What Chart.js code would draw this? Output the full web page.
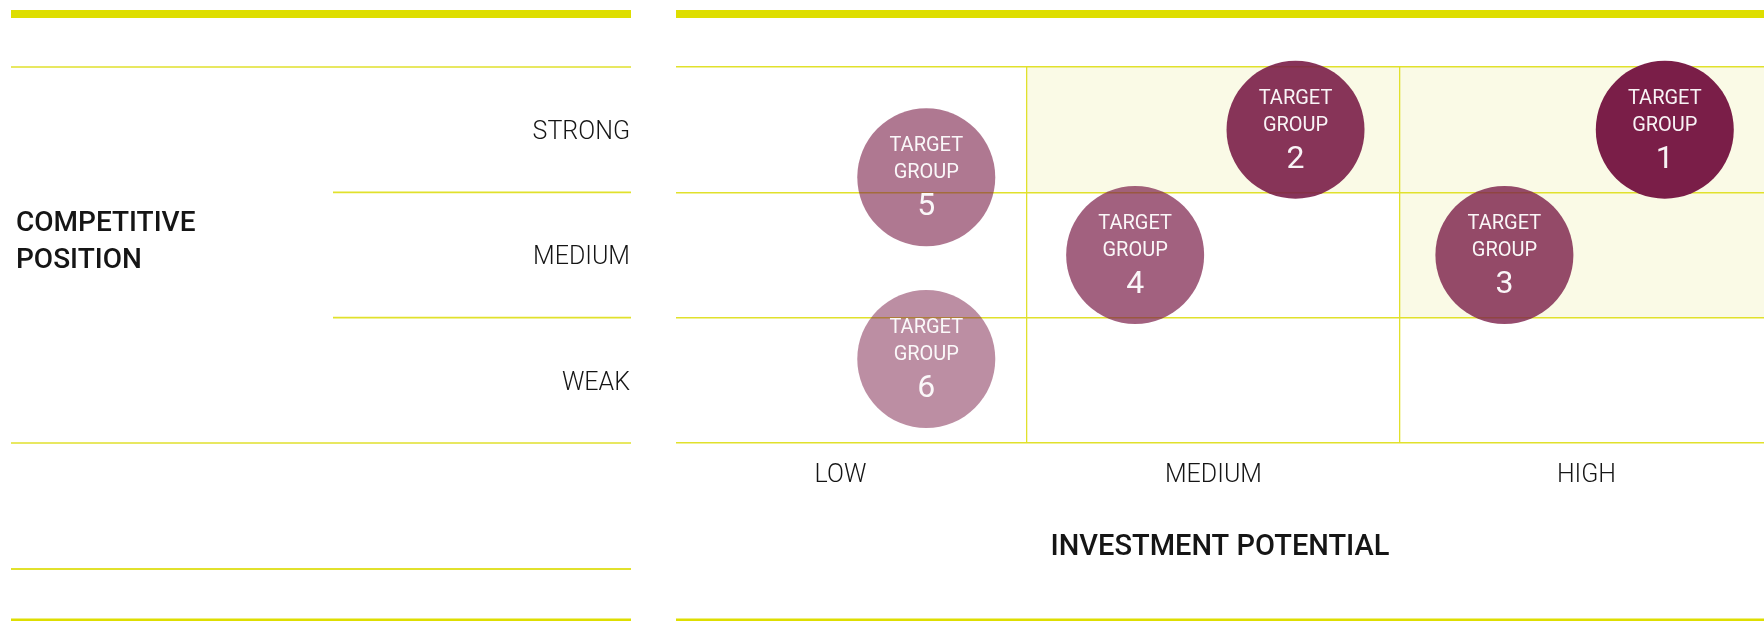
<!DOCTYPE html>
<html>
<head>
<meta charset="utf-8">
<script src="https://cdn.jsdelivr.net/npm/chart.js@4.4.1/dist/chart.umd.min.js"></script>
<style>
  html, body { margin: 0; padding: 0; background: #fff; }
  #matrix { display: block; }
</style>
</head>
<body>
<canvas id="matrix" width="1764" height="621"></canvas>
<script>
// target groups: investment potential (x) vs competitive position (y)
const groupNumbers = ['1', '2', '3', '4', '5', '6'];
const investment = [2.71, 1.72, 2.28, 1.29, 0.73, 0.73];
const competitive = [2.5, 2.5, 1.5, 1.5, 2.12, 0.67];

const investmentLabels = ['LOW', 'MEDIUM', 'HIGH'];
const positionLabels = ['WEAK', 'MEDIUM', 'STRONG'];
const gridValues = [0, 1, 2, 3];
// highlighted cells [column, row] (0 = LOW / WEAK)
const shadedCells = [[1, 2], [2, 2], [2, 1]];

const FONT = "Roboto, 'Liberation Sans', sans-serif";
const YELLOW = '#e1e12c';
const BAR = '#dede00';
const TEXT = '#151515';
const bubbleAlpha = [1, 0.9, 0.8, 0.7, 0.6, 0.5];
const bubbleColors = bubbleAlpha.map(a => 'rgba(122, 30, 72, ' + a + ')');

const midTicks = labels => labels.map((_, i) => i + 0.5);
const tickList = labels => gridValues.concat(midTicks(labels)).sort((a, b) => a - b);

const frame = {
  id: 'frame',
  beforeDraw(chart) {
    const { ctx, chartArea: a, scales: { x, y } } = chart;
    ctx.save();

    ctx.fillStyle = '#fafae6';
    shadedCells.forEach(([cx, cy]) => {
      const l = Math.max(x.getPixelForValue(cx), a.left);
      const r = Math.min(x.getPixelForValue(cx + 1), a.right);
      const t = Math.max(y.getPixelForValue(cy + 1), a.top);
      const b = Math.min(y.getPixelForValue(cy), a.bottom);
      ctx.fillRect(l, t, r - l, b - t);
    });

    // heavy top bars
    ctx.fillStyle = BAR;
    ctx.fillRect(11, 10, 620, 8);
    ctx.fillRect(a.left, 10, chart.width - a.left, 8);

    const hline = (x0, x1, yy, w) => {
      ctx.lineWidth = w;
      ctx.beginPath();
      ctx.moveTo(x0, yy);
      ctx.lineTo(x1, yy);
      ctx.stroke();
    };
    // left panel rules
    ctx.strokeStyle = YELLOW;
    hline(11, 631, y.getPixelForValue(3), 1.3);
    hline(333, 631, y.getPixelForValue(2), 1.6);
    hline(333, 631, y.getPixelForValue(1), 1.6);
    hline(11, 631, y.getPixelForValue(0), 1.6);
    hline(11, 631, 569, 2);
    ctx.strokeStyle = BAR;
    hline(11, 631, 620, 3);
    hline(a.left, chart.width, 620, 3);

    // vertical axis title
    ctx.fillStyle = TEXT;
    ctx.font = '500 28px ' + FONT;
    ctx.textAlign = 'left';
    ctx.textBaseline = 'alphabetic';
    ctx.fillText('COMPETITIVE', 16, 231);
    ctx.fillText('POSITION', 16, 268);
    ctx.restore();
  }
};

const bubbleText = {
  id: 'bubbleText',
  afterDatasetsDraw(chart) {
    const { ctx } = chart;
    const meta = chart.getDatasetMeta(0);
    ctx.save();
    ctx.fillStyle = 'rgba(255, 255, 255, 0.95)';
    ctx.textAlign = 'center';
    ctx.textBaseline = 'alphabetic';
    meta.data.forEach((pt, i) => {
      ctx.font = '20px ' + FONT;
      ctx.fillText('TARGET', pt.x, pt.y - 26);
      ctx.fillText('GROUP', pt.x, pt.y + 1);
      ctx.font = '32px ' + FONT;
      ctx.fillText(groupNumbers[i], pt.x, pt.y + 38);
    });
    ctx.restore();
  }
};

const gridColor = ctx => Number.isInteger(ctx.tick.value) ? YELLOW : 'rgba(0,0,0,0)';

new Chart(document.getElementById('matrix'), {
  type: 'bubble',
  data: {
    datasets: [{
      data: investment.map((v, i) => ({ x: v, y: competitive[i] })),
      backgroundColor: bubbleColors,
      borderWidth: 0,
      radius: 69,
      clip: false
    }]
  },
  options: {
    responsive: false,
    animation: false,
    events: [],
    layout: { autoPadding: false, padding: { top: 67, left: 0, right: 0, bottom: 0 } },
    plugins: {
      legend: { display: false },
      tooltip: { enabled: false }
    },
    scales: {
      x: {
        type: 'linear',
        position: 'bottom',
        min: 0.059,
        max: 2.976,
        afterBuildTicks: s => { s.ticks = tickList(investmentLabels).filter(v => v > 0 && v < 3).map(v => ({ value: v })); },
        afterFit: s => { s.height = 178; },
        ticks: {
          padding: 18,
          autoSkip: false,
          maxRotation: 0,
          color: TEXT,
          font: { family: FONT, size: 25, weight: 300 },
          callback: v => Number.isInteger(v) ? '' : investmentLabels[Math.floor(v)]
        },
        grid: { drawTicks: false, color: gridColor, lineWidth: 1.3 },
        border: { display: false },
        title: {
          display: true,
          text: 'INVESTMENT POTENTIAL',
          color: TEXT,
          font: { family: FONT, size: 29, weight: 500 },
          padding: { top: 0, bottom: 56 }
        }
      },
      y: {
        type: 'linear',
        position: 'left',
        min: 0,
        max: 3,
        afterBuildTicks: s => { s.ticks = tickList(positionLabels).map(v => ({ value: v })); },
        afterFit: s => { s.width = 676; },
        ticks: {
          padding: 46,
          labelOffset: 3,
          autoSkip: false,
          color: TEXT,
          font: { family: FONT, size: 25, weight: 300 },
          callback: v => Number.isInteger(v) ? '' : positionLabels[Math.floor(v)]
        },
        grid: { drawTicks: false, color: gridColor, lineWidth: 1.6 },
        border: { display: false }
      }
    }
  },
  plugins: [frame, bubbleText]
});
</script>
</body>
</html>
